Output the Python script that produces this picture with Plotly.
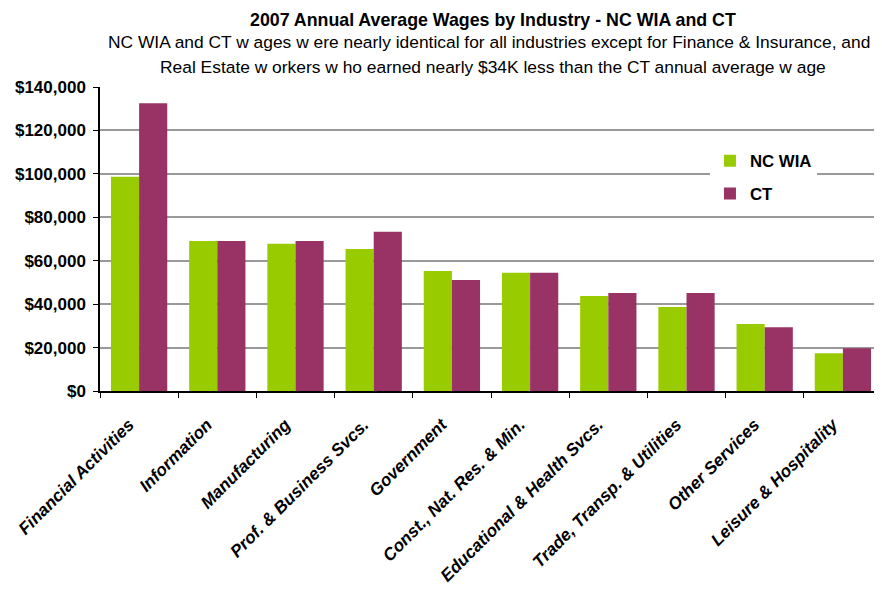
import plotly.graph_objects as go

industries = [
    "Financial Activities",
    "Information",
    "Manufacturing",
    "Prof. & Business Svcs.",
    "Government",
    "Const., Nat. Res. & Min.",
    "Educational & Health Svcs.",
    "Trade, Transp. & Utilities",
    "Other Services",
    "Leisure & Hospitality",
]
nc_wia = [98700, 69100, 67800, 65400, 55300, 54400, 43700, 38700, 30800, 17400]
ct = [132500, 69100, 69100, 73300, 51100, 54400, 45100, 45100, 29400, 19700]

title = "2007 Annual Average Wages by Industry - NC WIA and CT"
subtitle = [
    "NC WIA and CT w ages w ere nearly identical for all industries except for Finance & Insurance, and",
    "Real Estate w orkers w ho earned nearly $34K less than the CT annual average w age",
]

GREEN = "#99CC00"
PURPLE = "#993366"
FONT = "Liberation Sans, Arial, sans-serif"

fig = go.Figure()
fig.add_trace(go.Bar(x=industries, y=nc_wia, name="NC WIA", marker_color=GREEN,
                     marker_line_width=0, legendgroup="a"))
fig.add_trace(go.Bar(x=industries, y=ct, name="CT", marker_color=PURPLE,
                     marker_line_width=0, legendgroup="b"))

# the page body adds an 8px margin, so the figure is sized to fit inside it
fig.update_layout(
    width=874,
    height=582,
    margin={"l": 92, "r": 0, "t": 79, "b": 199, "autoexpand": False},
    plot_bgcolor="white",
    paper_bgcolor="white",
    barmode="group",
    bargap=0.28,
    bargroupgap=0,
    font={"family": FONT, "color": "black"},
    legend={
        "x": 0.78,
        "y": 0.815,
        "xanchor": "left",
        "yanchor": "top",
        "bgcolor": "white",
        "font": {"size": 16.8, "weight": "bold"},
        "tracegroupgap": 8,
        "traceorder": "grouped",
        "itemwidth": 30,
    },
    annotations=[
        {"text": f"<b>{title}</b>", "xref": "paper", "yref": "paper",
         "x": 0.502, "y": 1, "yshift": 67, "showarrow": False,
         "font": {"size": 17.8}, "xanchor": "center", "yanchor": "middle"},
        {"text": subtitle[0], "xref": "paper", "yref": "paper",
         "x": 0.497, "y": 1, "yshift": 45, "showarrow": False,
         "font": {"size": 17.4}, "xanchor": "center", "yanchor": "middle"},
        {"text": subtitle[1], "xref": "paper", "yref": "paper",
         "x": 0.503, "y": 1, "yshift": 20, "showarrow": False,
         "font": {"size": 17.4}, "xanchor": "center", "yanchor": "middle"},
    ],
)

fig.update_yaxes(
    range=[0, 140000],
    dtick=20000,
    tickformat="$,.0f",
    tickfont={"size": 17, "weight": "bold"},
    showgrid=True,
    gridcolor="#999999",
    gridwidth=2,
    showline=True,
    linecolor="black",
    linewidth=1.5,
    ticks="outside",
    ticklen=5,
    tickcolor="black",
    ticklabelstandoff=4,
    zeroline=False,
    automargin=False,
)
fig.update_xaxes(
    tickmode="array",
    tickvals=industries,
    ticktext=[name + "\u00a0" * 3 for name in industries],
    tickangle=-45,
    tickfont={"size": 17.2, "weight": "bold", "style": "italic"},
    showline=True,
    linecolor="black",
    linewidth=1.5,
    ticks="outside",
    ticklen=5,
    tickcolor="black",
    tickson="boundaries",
    ticklabelstandoff=5,
    showgrid=False,
    automargin=False,
)

fig.write_html("out.html")
